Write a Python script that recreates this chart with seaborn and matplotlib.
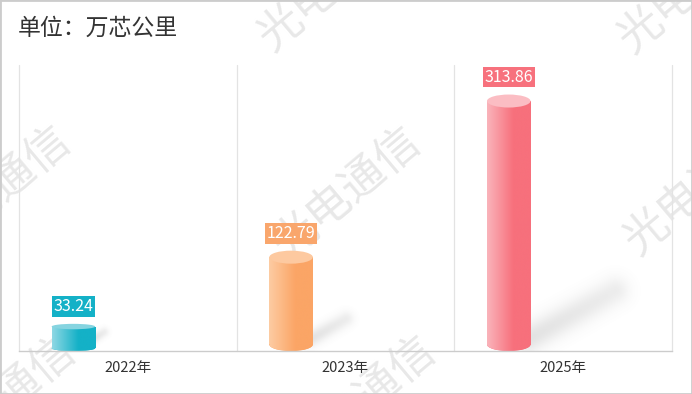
import numpy as np
import pandas as pd
import matplotlib
matplotlib.use('Agg')
import matplotlib.pyplot as plt
import seaborn as sns
from matplotlib.patches import Ellipse, Rectangle
from matplotlib.colors import to_rgb

# ---------------- data ----------------
categories = ['2022年', '2023年', '2025年']
values = [33.24, 122.79, 313.86]
title = '单位：万芯公里'
watermark = '光电通信'
dark_colors = ['#14B1C7', '#FBA566', '#F7707C']
light_colors = ['#8FD8E4', '#FDCCA3', '#FAB4BB']
top_colors = ['#86D4E0', '#FDC9A0', '#FBBDC3']
label_colors = ['#14B1C7', '#F9A66C', '#F7717D']

sns.set_theme(style='white')
plt.rcParams['font.family'] = ['Noto Sans CJK SC', 'DejaVu Sans']

W, H = 692, 394
fig = plt.figure(figsize=(W / 100, H / 100), dpi=100)
fig.patch.set_facecolor('white')
ax_l, ax_r, ax_t, ax_b = 19, 672, 65, 351
ax = fig.add_axes([ax_l / W, 1 - ax_b / H, (ax_r - ax_l) / W, (ax_b - ax_t) / H])
ax.patch.set_visible(False)

df = pd.DataFrame({'cat': categories, 'val': values})
sns.barplot(data=df, x='cat', y='val', hue='cat', palette=dark_colors,
            width=0.2, legend=False, ax=ax, saturation=1)

YMAX = 350
n = len(categories)
px_x = (ax_r - ax_l) / n          # pixels per x unit
px_y = (ax_b - ax_t) / YMAX       # pixels per y unit

bars = sorted(ax.patches, key=lambda p: p.get_x())

# shadow image over axes area
nx, ny = ax_r - ax_l, ax_b - ax_t
XX, YY = np.meshgrid(np.arange(nx) + 0.5, np.arange(ny) + 0.5)
alpha = np.zeros((ny, nx))

for i, p in enumerate(bars):
    p.set_x(p.get_x() - 0.25)
    x0, w, v = p.get_x(), p.get_width(), p.get_height()
    xc = x0 + w / 2
    h_px = v * px_y
    eh_px = min(13.0, 0.2 * h_px)
    eh = eh_px / px_y
    # body rectangle between ellipse centres
    p.set_y(eh / 2)
    p.set_height(v - eh)
    p.set_edgecolor('none')
    p.set_zorder(3)
    light = np.array(to_rgb(light_colors[i]))
    dark = np.array(to_rgb(dark_colors[i]))
    t = np.clip(np.linspace(0, 1, 256) / 0.6, 0, 1)[:, None]
    grad = (light + (dark - light) * t)[None, :, :]
    im1 = ax.imshow(grad, extent=[x0, x0 + w, 0, v], aspect='auto', zorder=3.1)
    im1.set_clip_path(p)
    bottom = Ellipse((xc, eh / 2), w, eh, fc=dark_colors[i], ec='none', zorder=3)
    ax.add_patch(bottom)
    im2 = ax.imshow(grad, extent=[x0, x0 + w, 0, v], aspect='auto', zorder=3.05)
    im2.set_clip_path(bottom)
    top = Ellipse((xc, v - eh / 2), w, eh, fc=top_colors[i], ec='none', zorder=4)
    ax.add_patch(top)
    # value label
    ax.annotate(f'{v:.2f}', (xc, v), xytext=(0, 6.5), textcoords='offset points',
                ha='center', va='bottom', color='white', fontsize=11.5, zorder=6,
                bbox=dict(boxstyle='square,pad=0.12', fc=label_colors[i], ec='none'))
    # shadow
    xr = (x0 + w + 0.5) * px_x
    S = np.array([xr - 2, ny - 12])
    E = np.array([xr + 0.33 * h_px, ny - 14 - 0.18 * h_px])
    r = 4 + 0.045 * h_px
    d = E - S
    L2 = max(d @ d, 1e-6)
    tt = np.clip(((XX - S[0]) * d[0] + (YY - S[1]) * d[1]) / L2, 0, 1)
    dist = np.hypot(XX - (S[0] + tt * d[0]), YY - (S[1] + tt * d[1]))
    fade = 1 - 0.35 * tt
    alpha = np.maximum(alpha, 0.22 * fade * np.exp(-1.3 * (dist / r) ** 2))

shadow = np.zeros((ny, nx, 4))
shadow[..., :3] = 0.5
shadow[..., 3] = alpha
ax.imshow(shadow, extent=[-0.5, n - 0.5, 0, YMAX], aspect='auto', zorder=1,
          origin='upper', interpolation='bilinear')

# separators / axes
for k in range(n + 1):
    ax.axvline(k - 0.5, color='#E3E3E3', lw=0.9, zorder=0.5, clip_on=False)
ax.set_xlim(-0.5, n - 0.5)
ax.set_ylim(0, YMAX)
for s in ['left', 'right', 'top']:
    ax.spines[s].set_visible(False)
ax.spines['bottom'].set_color('#CCCCCC')
ax.spines['bottom'].set_linewidth(1)
ax.spines['bottom'].set_zorder(5)
ax.set_xticks(range(n))
ax.set_xticklabels(categories, fontsize=10.5, color='#333333')
ax.tick_params(axis='x', length=0, pad=7)
ax.set_yticks([])
ax.set_xlabel('')
ax.set_ylabel('')
ax.grid(False)

# title
fig.text(18 / W, 1 - 28 / H, title, ha='left', va='center', fontsize=16.5, color='#333333')

# watermark
wm_pos = [(280, 28), (640, 30), (-70, 28), (-55, 235), (295, 236), (646, 232),
          (-50, 445), (310, 445), (660, 445)]
for cx, cy in wm_pos:
    fig.text((cx + 52) / W, 1 - (cy - 43) / H, watermark, rotation=40,
             rotation_mode='anchor', ha='center', va='center', fontsize=32,
             color='#E8E8E8', zorder=-1)

fig.add_artist(Rectangle((0, 0), 1, 1, transform=fig.transFigure, fill=False,
                         ec='#CCCCCC', lw=2, zorder=10))

fig.savefig('out.png', dpi=100)
